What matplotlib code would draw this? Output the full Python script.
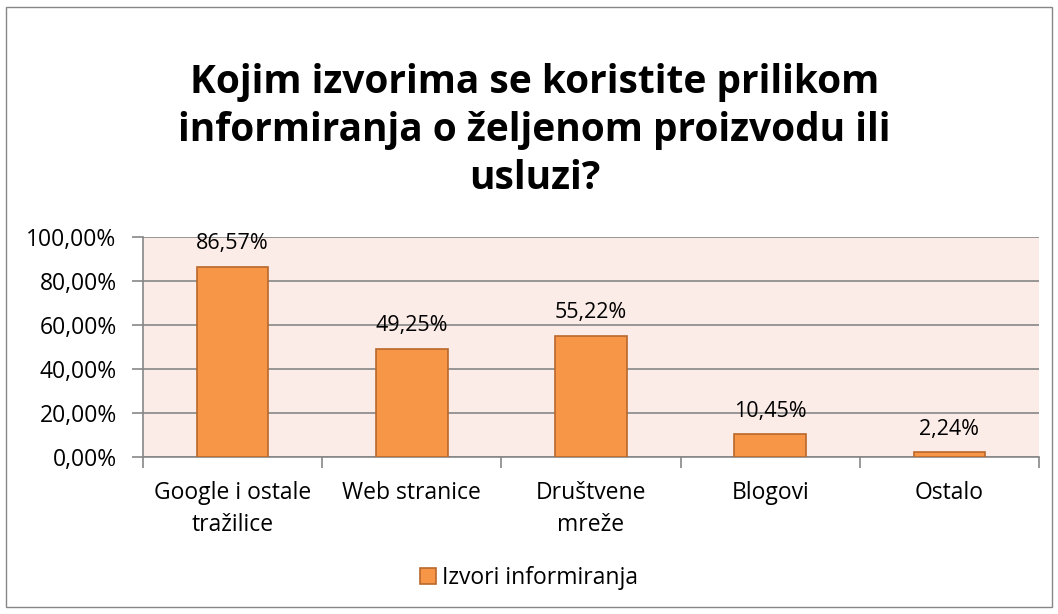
import numpy as np
import matplotlib.pyplot as plt
from matplotlib.patches import Rectangle

categories = ["Google i ostale\ntražilice", "Web stranice", "Društvene\nmreže", "Blogovi", "Ostalo"]
values = [86.57, 49.25, 55.22, 10.45, 2.24]
series_name = "Izvori informiranja"
yticks = [0, 20, 40, 60, 80, 100]

BAR = "#F79646"
EDGE = "#B8682C"
GRID = "#878787"

plt.rcParams['font.family'] = ['Open Sans', 'DejaVu Sans']

fig = plt.figure(figsize=(10.58, 6.14), dpi=100)
fig.patches.append(Rectangle((0.006, 0.011), 0.988, 0.978, transform=fig.transFigure,
                             fill=False, edgecolor=GRID, linewidth=1.0))

ax = fig.add_axes([0.1352, 0.2557, 0.8468, 0.3583])
ax.set_facecolor("#FCECE7")

x = np.arange(len(values))
ax.bar(x, values, width=0.4, color=BAR, edgecolor=EDGE, linewidth=1.2, zorder=3,
       label=series_name)
for xi, v in zip(x, values):
    ax.annotate(f"{v:.2f}%".replace(".", ","), (xi, v), xytext=(0, 9),
                textcoords="offset points", ha="center", va="bottom",
                fontsize=15.5, color="black", zorder=4)

ax.set_xlim(-0.5, len(values) - 0.5)
ax.set_ylim(0, 100)
ax.set_yticks(yticks)
ax.set_yticklabels([f"{t:.2f}%".replace(".", ",") for t in yticks], fontsize=16.5)
ax.yaxis.grid(True, color=GRID, linewidth=1.2, zorder=1)
ax.set_axisbelow(True)

ax.set_xticks(x)
ax.set_xticklabels(categories, fontsize=16.5, linespacing=1.45)
ax.tick_params(axis="x", length=0, pad=17)
ax.set_xticks(np.arange(-0.5, len(values)), minor=True)
ax.tick_params(axis="x", which="minor", length=8, color=GRID, width=1.2)
ax.tick_params(axis="y", length=8, color=GRID, width=1.2, pad=11)

for s in ["top", "right"]:
    ax.spines[s].set_visible(False)
for s in ["left", "bottom"]:
    ax.spines[s].set_color(GRID)
    ax.spines[s].set_linewidth(1.2)

fig.text(0.505, 0.788, "Kojim izvorima se koristite prilikom\ninformiranja o željenom proizvodu ili\nusluzi?",
         ha="center", va="center", fontsize=28, fontweight="bold", linespacing=1.3)

fig.legend(handles=[Rectangle((0, 0), 1, 1, facecolor=BAR, edgecolor=EDGE, linewidth=1.2)],
           labels=[series_name], loc="center", bbox_to_anchor=(0.5, 0.058),
           frameon=False, fontsize=16.5, handlelength=0.7, handleheight=0.7, handletextpad=0.3)

fig.savefig("out.png", dpi=100)
